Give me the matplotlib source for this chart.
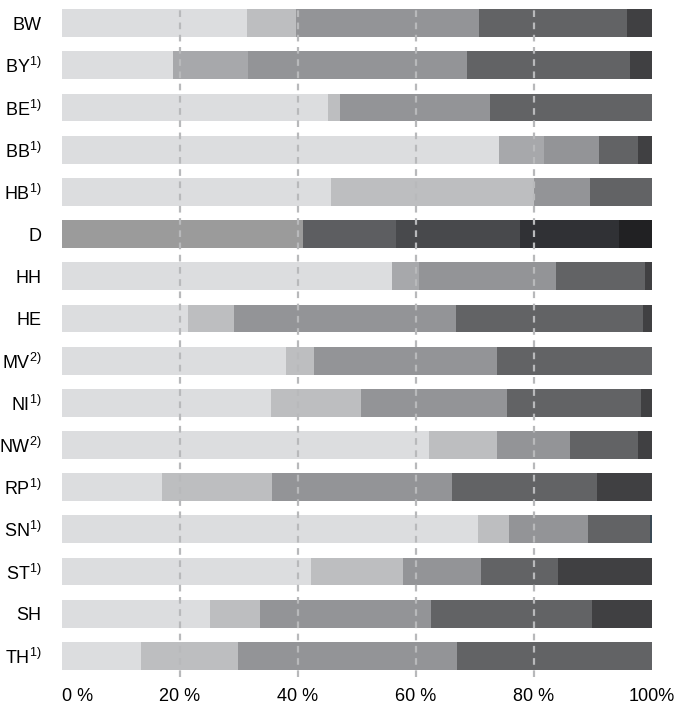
import matplotlib
matplotlib.use('Agg')
import matplotlib.pyplot as plt
import numpy as np

plt.rcParams['font.family'] = ['Liberation Sans', 'DejaVu Sans']
plt.rcParams['mathtext.fontset'] = 'custom'
plt.rcParams['mathtext.rm'] = 'Liberation Sans'
plt.rcParams['mathtext.it'] = 'Liberation Sans'

# Laender (von oben nach unten)
laender = ['BW', 'BY$^{1)}$', 'BE$^{1)}$', 'BB$^{1)}$', 'HB$^{1)}$', 'D', 'HH', 'HE',
           'MV$^{2)}$', 'NI$^{1)}$', 'NW$^{2)}$', 'RP$^{1)}$', 'SN$^{1)}$', 'ST$^{1)}$',
           'SH', 'TH$^{1)}$']

# Anteile in % je Stufe (D hat eigene Werte weiter unten)
s1 = [31.4, 18.8, 45.1, 74.1, 45.6, 0, 55.9, 21.4, 38.0, 35.4, 62.2, 16.9, 70.5, 42.2, 25.1, 13.4]
s2 = [8.3, 0, 2.0, 0, 34.4, 0, 0, 7.8, 4.7, 15.3, 11.5, 18.7, 5.3, 15.6, 8.5, 16.4]
s2b = [0, 12.7, 0, 7.6, 0, 0, 4.6, 0, 0, 0, 0, 0, 0, 0, 0, 0]
s3 = [31.0, 37.1, 25.4, 9.3, 9.5, 0, 23.2, 37.6, 31.0, 24.7, 12.4, 30.5, 13.4, 13.2, 28.9, 37.1]
s4 = [25.1, 27.7, 27.5, 6.6, 10.5, 0, 15.1, 31.7, 26.3, 22.7, 11.5, 24.6, 10.5, 13.1, 27.3, 33.1]
s5 = [4.2, 3.7, 0, 2.4, 0, 0, 1.2, 1.5, 0, 1.9, 2.4, 9.3, 0, 15.9, 10.2, 0]
s6 = [0, 0, 0, 0, 0, 0, 0, 0, 0, 0, 0, 0, 0.3, 0, 0, 0]

# Deutschland gesamt
d_werte = [40.8, 15.8, 21.0, 16.8, 5.6]
d_farben = ['#9b9b9b', '#5d5e61', '#48494c', '#303135', '#212123']

serien = [s1, s2, s2b, s3, s4, s5, s6]
farben = ['#dcdddf', '#bdbec0', '#a7a8ab', '#939497', '#626365', '#404042', '#3b4a55']

fig = plt.figure(figsize=(6.77, 7.07), dpi=100)
ax = fig.add_axes([0.0916, 0.0424, 0.8715, 0.9463])

y = np.arange(len(laender))
links = np.zeros(len(laender))
for werte, farbe in zip(serien, farben):
    werte = np.array(werte)
    ax.barh(y, werte, left=links, height=0.66, color=farbe, zorder=2)
    links = links + werte

i_d = laender.index('D')
links_d = 0
for wert, farbe in zip(d_werte, d_farben):
    ax.barh(i_d, wert, left=links_d, height=0.66, color=farbe, zorder=2)
    links_d += wert

for xg in [20, 40, 60, 80]:
    ax.axvline(xg, color='#b8b9bb', lw=1.6, ls=(0, (3, 2.5)), zorder=3)

ax.set_xlim(0, 100)
ax.set_ylim(15.5, -0.36)
ax.set_yticks(y)
ax.set_yticklabels(laender, fontsize=13)
ax.set_xticks([0, 20, 40, 60, 80, 100])
ax.set_xticklabels(['0 %', '20 %', '40 %', '60 %', '80 %', '100%'], fontsize=13)
ax.get_xticklabels()[0].set_ha('left')
ax.tick_params(axis='y', length=0, pad=15)
ax.tick_params(axis='x', length=0, pad=8)
for s in ax.spines.values():
    s.set_visible(False)

fig.savefig('out.png', dpi=100)
